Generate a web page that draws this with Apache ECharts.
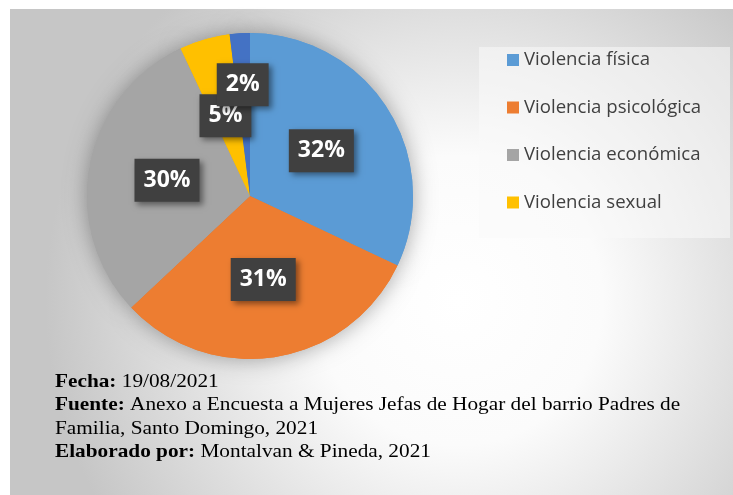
<!DOCTYPE html>
<html>
<head>
<meta charset="utf-8">
<script src="https://cdn.jsdelivr.net/npm/echarts@6/dist/echarts.min.js"></script>
<style>html,body{margin:0;padding:0;background:#fff}#c{width:733px;height:495px}</style>
</head>
<body>
<div id="c"></div>
<script>
const categories = ['Violencia física', 'Violencia psicológica', 'Violencia económica', 'Violencia sexual', 'Otra'];
const values = [32, 31, 30, 5, 2];
const colors = ['#5B9BD5', '#ED7D31', '#A5A5A5', '#FFC000', '#4472C4'];
const legendItems = ['Violencia física', 'Violencia psicológica', 'Violencia económica', 'Violencia sexual'];
const footLines = [
  ['Fecha:', ' 19/08/2021'],
  ['Fuente:', ' Anexo a Encuesta a Mujeres Jefas de Hogar del barrio Padres de'],
  ['', 'Familia, Santo Domingo, 2021'],
  ['Elaborado por:', ' Montalvan & Pineda, 2021']
];

const chart = echarts.init(document.getElementById('c'), null, {renderer: 'canvas'});
const data = categories.map((n, i) => ({name: n, value: values[i], itemStyle: {color: colors[i]}}));

const footText = footLines.map(l => (l[0] ? '{b|' + l[0] + '}' : '') + '{r|' + l[1] + '}').join('\n');

chart.setOption({
  backgroundColor: '#ffffff',
  animation: false,
  graphic: [
    {
      type: 'rect', z: -10, silent: true,
      shape: {x: 10, y: 9, width: 723, height: 486},
      style: {fill: new echarts.graphic.RadialGradient(0.62, 0.6, 0.85, [
        {offset: 0, color: '#ffffff'},
        {offset: 0.35, color: '#fbfbfb'},
        {offset: 1, color: '#c6c6c6'}
      ])}
    },
    {
      type: 'rect', z: -5, silent: true,
      shape: {x: 479, y: 47, width: 251, height: 191},
      style: {fill: 'rgba(250,250,250,0.55)'}
    },
    {
      type: 'text', silent: true, x: 55, y: 370, scaleX: 1.12, scaleY: 1,
      style: {
        text: footText,
        verticalAlign: 'top',
        rich: {
          b: {fontFamily: 'Liberation Serif', fontWeight: 'bold', fontSize: 19, fill: '#000', lineHeight: 23.5},
          r: {fontFamily: 'Liberation Serif', fontSize: 19, fill: '#000', lineHeight: 23.5}
        }
      }
    }
  ],
  legend: {
    data: legendItems,
    orient: 'vertical',
    left: 507, top: 50,
    padding: 0,
    itemWidth: 12, itemHeight: 12, itemGap: 27.5,
    icon: 'rect',
    selectedMode: false,
    textStyle: {fontFamily: 'Open Sans', fontSize: 18.6, color: '#404040', lineHeight: 20, padding: [0, 0, 0, 0]}
  },
  series: [
    {
      type: 'pie', silent: true, z: 1,
      center: [250, 196], radius: 163,
      startAngle: 90, clockwise: true,
      label: {show: false}, labelLine: {show: false},
      itemStyle: {shadowBlur: 22, shadowColor: 'rgba(0,0,0,0.35)'},
      data: data
    },
    {
      type: 'pie', z: 2,
      center: [250, 196], radius: 163,
      startAngle: 90, clockwise: true,
      data: data,
      emphasis: {disabled: true},
      label: {
        show: true, position: 'inside',
        formatter: '{c}%',
        fontFamily: 'Open Sans', fontWeight: 'bold', fontSize: 23, color: '#ffffff',
        lineHeight: 23,
        backgroundColor: '#404040',
        padding: [10, 9, 10, 9],
        shadowColor: 'rgba(0,0,0,0.45)', shadowBlur: 6, shadowOffsetX: 3, shadowOffsetY: 3
      },
      labelLine: {show: false},
      labelLayout: function (p) {
        if (p.dataIndex === 4) return {dx: -2, dy: -27};
        if (p.dataIndex === 3) return {dx: -1, dy: 1};
        return {};
      }
    }
  ]
});
</script>
</body>
</html>
